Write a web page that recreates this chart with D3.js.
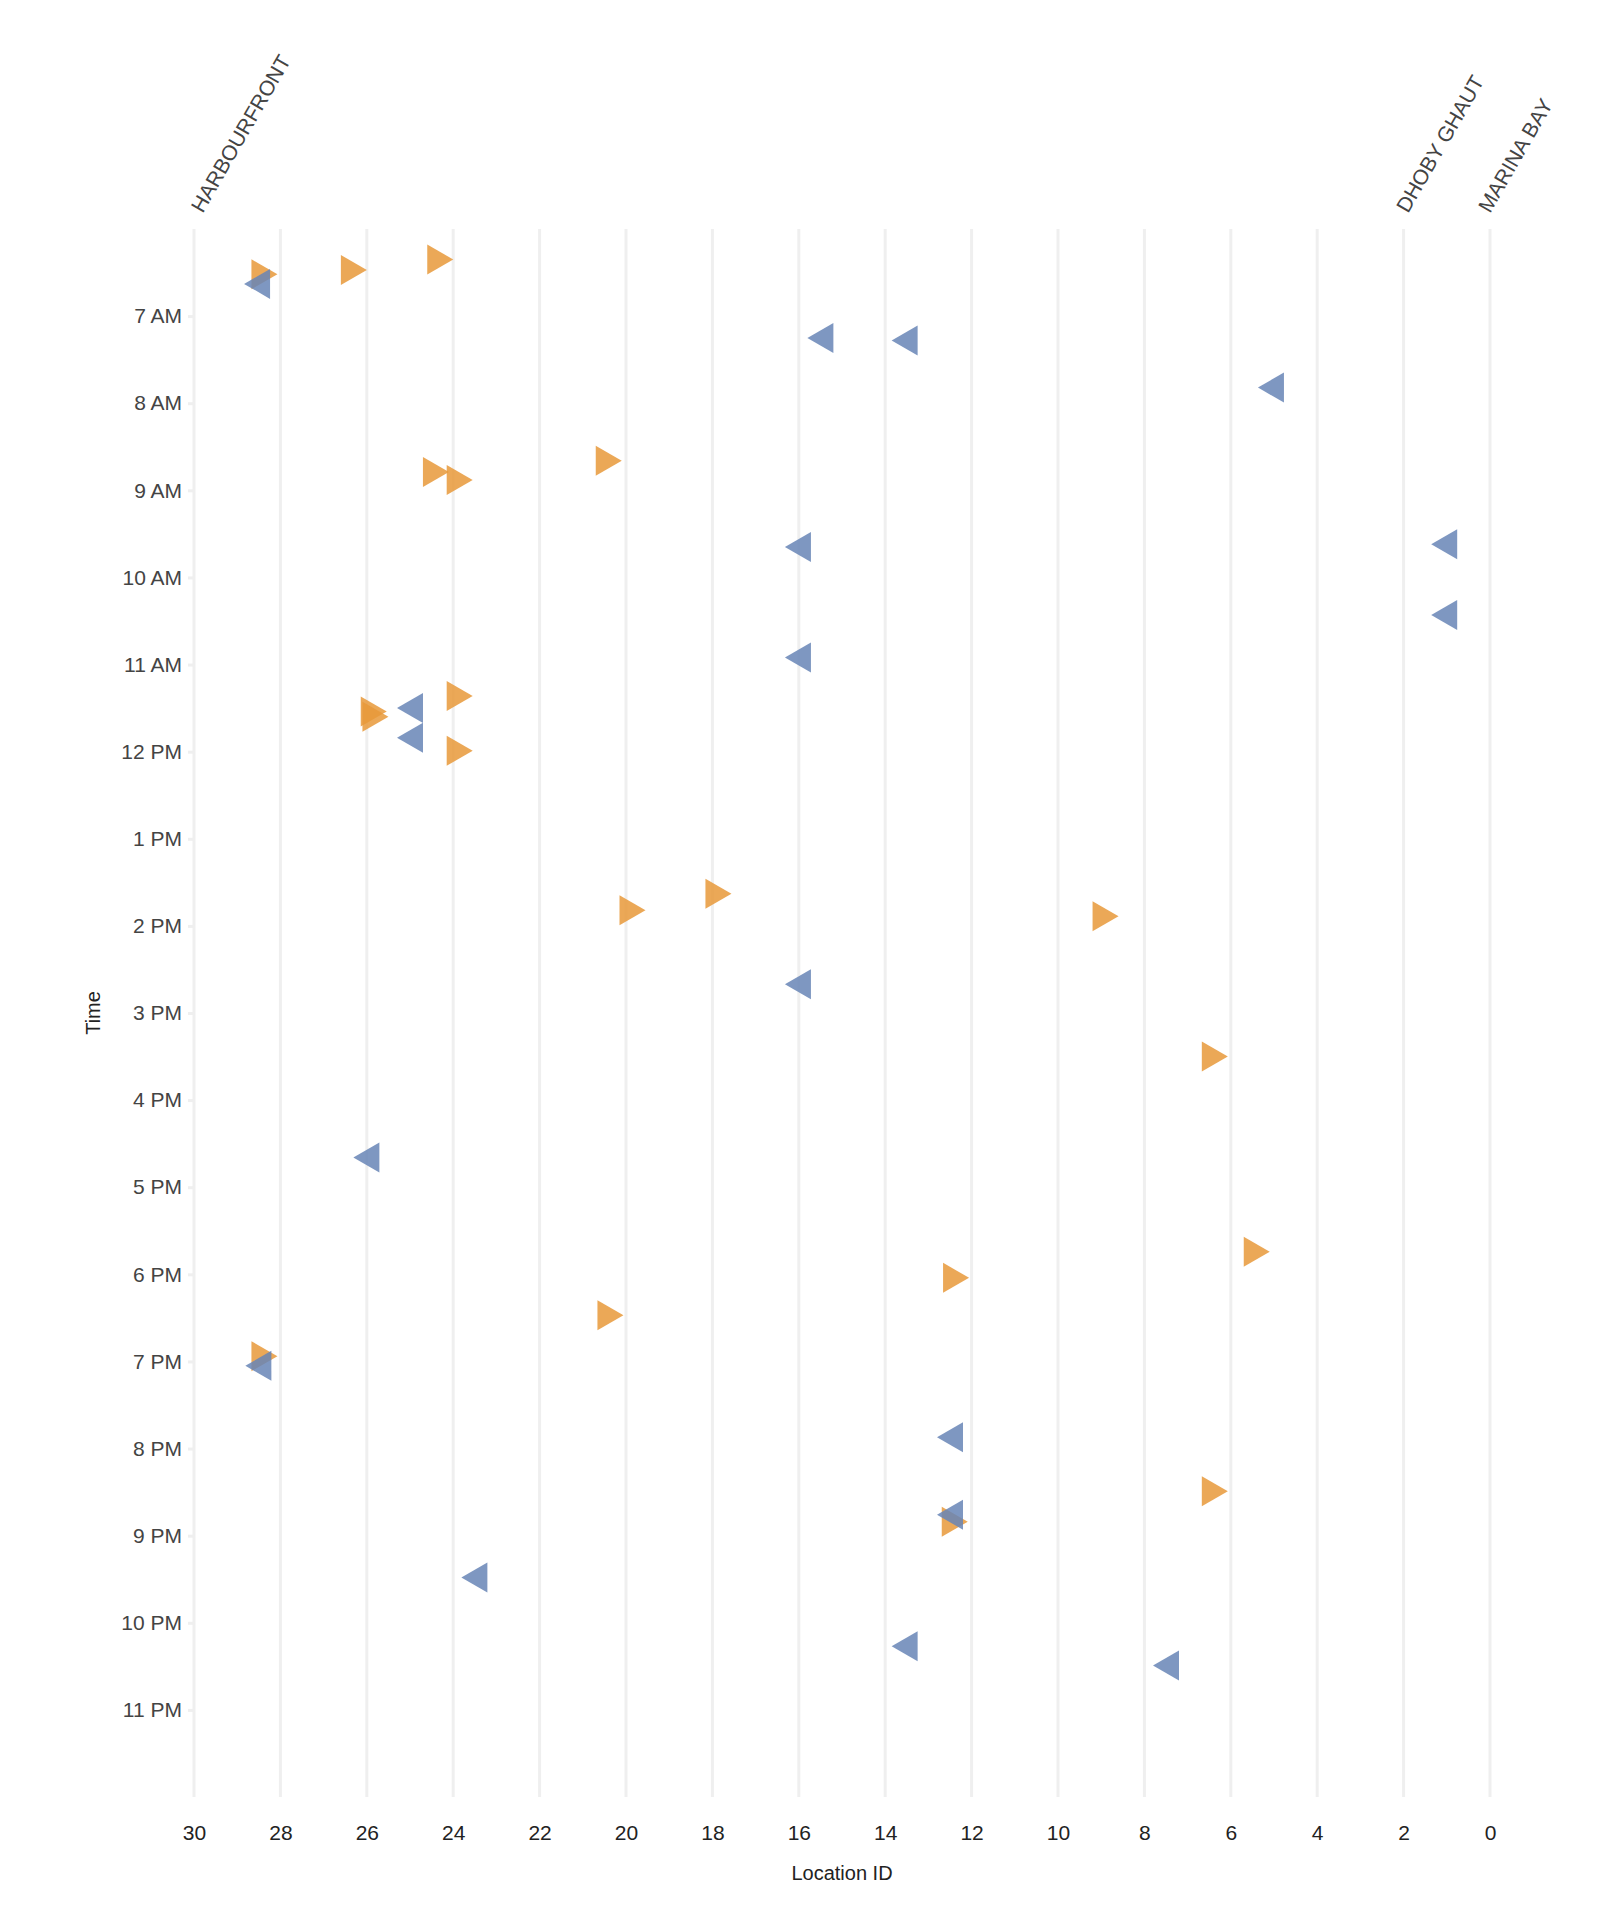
<!DOCTYPE html>
<html><head><meta charset="utf-8">
<script src="https://cdn.jsdelivr.net/npm/d3@7"></script>
<style>body{margin:0;background:#fff}text{font-family:"Liberation Sans",Arial,sans-serif;fill:#444}</style>
</head><body><div id="chart"></div>
<script>
// hours are decimal (6.5 = 6:30 AM)
const outLoc = [28.47, 26.4, 24.4, 20.5, 24.5, 23.95, 23.95, 25.94, 25.9, 23.95, 17.96, 19.95, 9.0, 6.47, 5.5, 12.46, 20.46, 28.47, 6.47, 12.49];
const outTime = [6.52, 6.47, 6.35, 8.66, 8.79, 8.88, 11.36, 11.54, 11.6, 11.99, 13.63, 13.82, 13.89, 15.5, 17.74, 18.04, 18.47, 18.94, 20.49, 20.84];
const inLoc = [28.44, 15.4, 13.45, 4.97, 15.92, 0.96, 0.96, 15.92, 24.9, 24.9, 15.92, 25.91, 28.41, 12.4, 12.4, 23.41, 13.45, 7.4];
const inTime = [6.63, 7.25, 7.28, 7.82, 9.65, 9.62, 10.43, 10.92, 11.5, 11.84, 14.67, 16.66, 19.05, 19.87, 20.76, 21.48, 22.27, 22.49];
const stations = ["HARBOURFRONT", "DHOBY GHAUT", "MARINA BAY"];
const stationLoc = [29.8, 1.9, 0];
const hourTicks = d3.range(7, 24);

const W = 1600, H = 1923;
const m = { left: 194, right: 1490, top: 229, bottom: 1797 };

const svg = d3.select("#chart").append("svg").attr("width", W).attr("height", H);
const x = d3.scaleLinear().domain([30, 0]).range([m.left, m.right]);
const y = d3.scaleLinear().domain([6, 24]).range([m.top, m.bottom]);

svg.append("g").selectAll("line").data(d3.range(0, 31, 2)).enter().append("line")
    .attr("x1", d => x(d)).attr("x2", d => x(d))
    .attr("y1", m.top).attr("y2", m.bottom)
    .attr("stroke", "#efefef").attr("stroke-width", 3);

const xAxis = svg.append("g").attr("transform", `translate(0,${m.bottom + 20})`)
    .call(d3.axisBottom(x).tickValues(d3.range(0, 31, 2)).tickSize(0).tickPadding(8));
xAxis.select(".domain").remove();
xAxis.selectAll("text").style("font-size", "21px").style("fill", "#222");

const fmt = h => (h % 12 === 0 ? 12 : h % 12) + (h < 12 ? " AM" : " PM");
const yAxis = svg.append("g").attr("transform", `translate(${m.left},0)`)
    .call(d3.axisLeft(y).tickValues(hourTicks).tickFormat(fmt).tickSize(6).tickPadding(6));
yAxis.select(".domain").remove();
yAxis.selectAll("line").attr("stroke", "#efefef").attr("stroke-width", 3);
yAxis.selectAll("text").style("font-size", "21px").style("fill", "#444");

svg.append("text").attr("x", (m.left + m.right) / 2).attr("y", 1880)
    .attr("text-anchor", "middle").style("font-size", "20px").style("fill", "#222").text("Location ID");
svg.append("text").attr("transform", `translate(100,${(m.top + m.bottom) / 2}) rotate(-90)`)
    .attr("text-anchor", "middle").style("font-size", "20px").style("fill", "#222").text("Time");

svg.selectAll(".station").data(stations).enter().append("text")
    .attr("transform", (d, i) => `translate(${x(stationLoc[i])},${m.top - 15}) rotate(-60)`)
    .style("font-size", "21px").style("fill", "#444").text(d => d);

const tw = 26, th = 30;
const rightTri = `M${-tw / 3},${-th / 2}L${2 * tw / 3},0L${-tw / 3},${th / 2}Z`;
const leftTri = `M${tw / 3},${-th / 2}L${-2 * tw / 3},0L${tw / 3},${th / 2}Z`;

svg.append("g").selectAll("path").data(outLoc).enter().append("path")
    .attr("d", rightTri)
    .attr("transform", (d, i) => `translate(${x(d)},${y(outTime[i])})`)
    .attr("fill", "#e8993a").attr("fill-opacity", 0.85);

svg.append("g").selectAll("path").data(inLoc).enter().append("path")
    .attr("d", leftTri)
    .attr("transform", (d, i) => `translate(${x(d)},${y(inTime[i])})`)
    .attr("fill", "#6785b6").attr("fill-opacity", 0.85);
</script></body></html>
